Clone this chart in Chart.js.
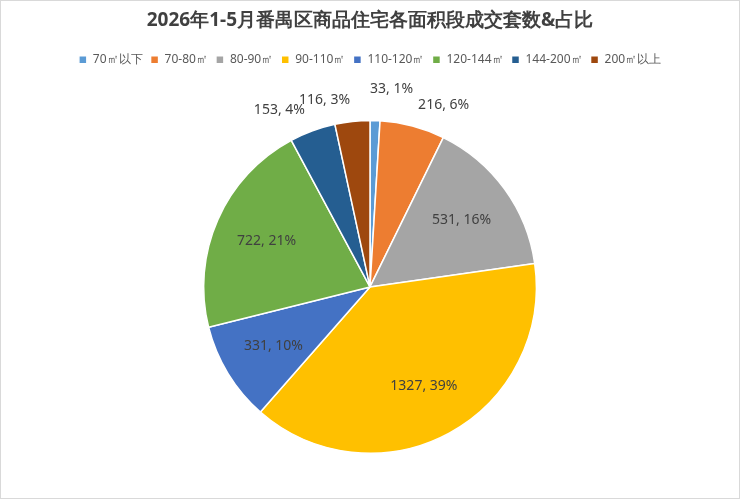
<!DOCTYPE html>
<html><head><meta charset="utf-8">
<script src="https://cdn.jsdelivr.net/npm/chart.js@4/dist/chart.umd.min.js"></script>
<style>html,body{margin:0;padding:0;background:#fff}#wrap{position:absolute;left:0;top:0;width:738px;height:497px;border:1px solid #d9d9d9}</style>
</head><body><div id="wrap"><canvas id="c" width="738" height="497"></canvas></div>
<script>
const categories=['70㎡以下','70-80㎡','80-90㎡','90-110㎡','110-120㎡','120-144㎡','144-200㎡','200㎡以上'];
const values=[33,216,531,1327,331,722,153,116];
const percents=['1%','6%','16%','39%','10%','21%','4%','3%'];
const colors=['#5B9BD5','#ED7D31','#A5A5A5','#FFC000','#4472C4','#70AD47','#255E91','#9E480E'];
const outside=[true,true,false,false,false,false,true,true];
const lbl={id:'lbl',afterDatasetsDraw(ch){const c=ch.ctx;const meta=ch.getDatasetMeta(0);c.save();c.font='14px "Noto Sans", sans-serif';c.fillStyle='#404040';c.textBaseline='middle';
meta.data.forEach((a,i)=>{const ang=(a.startAngle+a.endAngle)/2;const r=outside[i]?a.outerRadius+(i==0?32:22):a.outerRadius*0.68;
let x=a.x+Math.cos(ang)*r,y=a.y+Math.sin(ang)*r;const t=values[i]+', '+percents[i];
if(outside[i]){c.textAlign=Math.cos(ang)>0.1?'left':(Math.cos(ang)<-0.1?'right':'center');if(i==0){c.textAlign='left';x-=6;}}else c.textAlign='center';
c.fillText(t,x,y);});c.restore();}};
const lh={id:'lh',afterInit(ch){const L=ch.legend;const f=L.fit;L.fit=function(){f.call(this);this.height+=44;};}};
new Chart(document.getElementById('c'),{type:'pie',data:{labels:categories,datasets:[{data:values,backgroundColor:colors,borderColor:'#fff',borderWidth:1.5}]},
options:{responsive:false,animation:false,layout:{padding:{top:0,bottom:44}},
plugins:{title:{display:true,text:'2026年1-5月番禺区商品住宅各面积段成交套数&占比',font:{size:19,weight:'bold',family:'"Noto Sans", sans-serif'},color:'#404040',padding:{top:8,bottom:14}},
legend:{position:'top',labels:{boxWidth:8,boxHeight:8,font:{size:12,family:'"Noto Sans", sans-serif'},color:'#595959',padding:8}},tooltip:{enabled:false}}},plugins:[lbl,lh]});
</script></body></html>
